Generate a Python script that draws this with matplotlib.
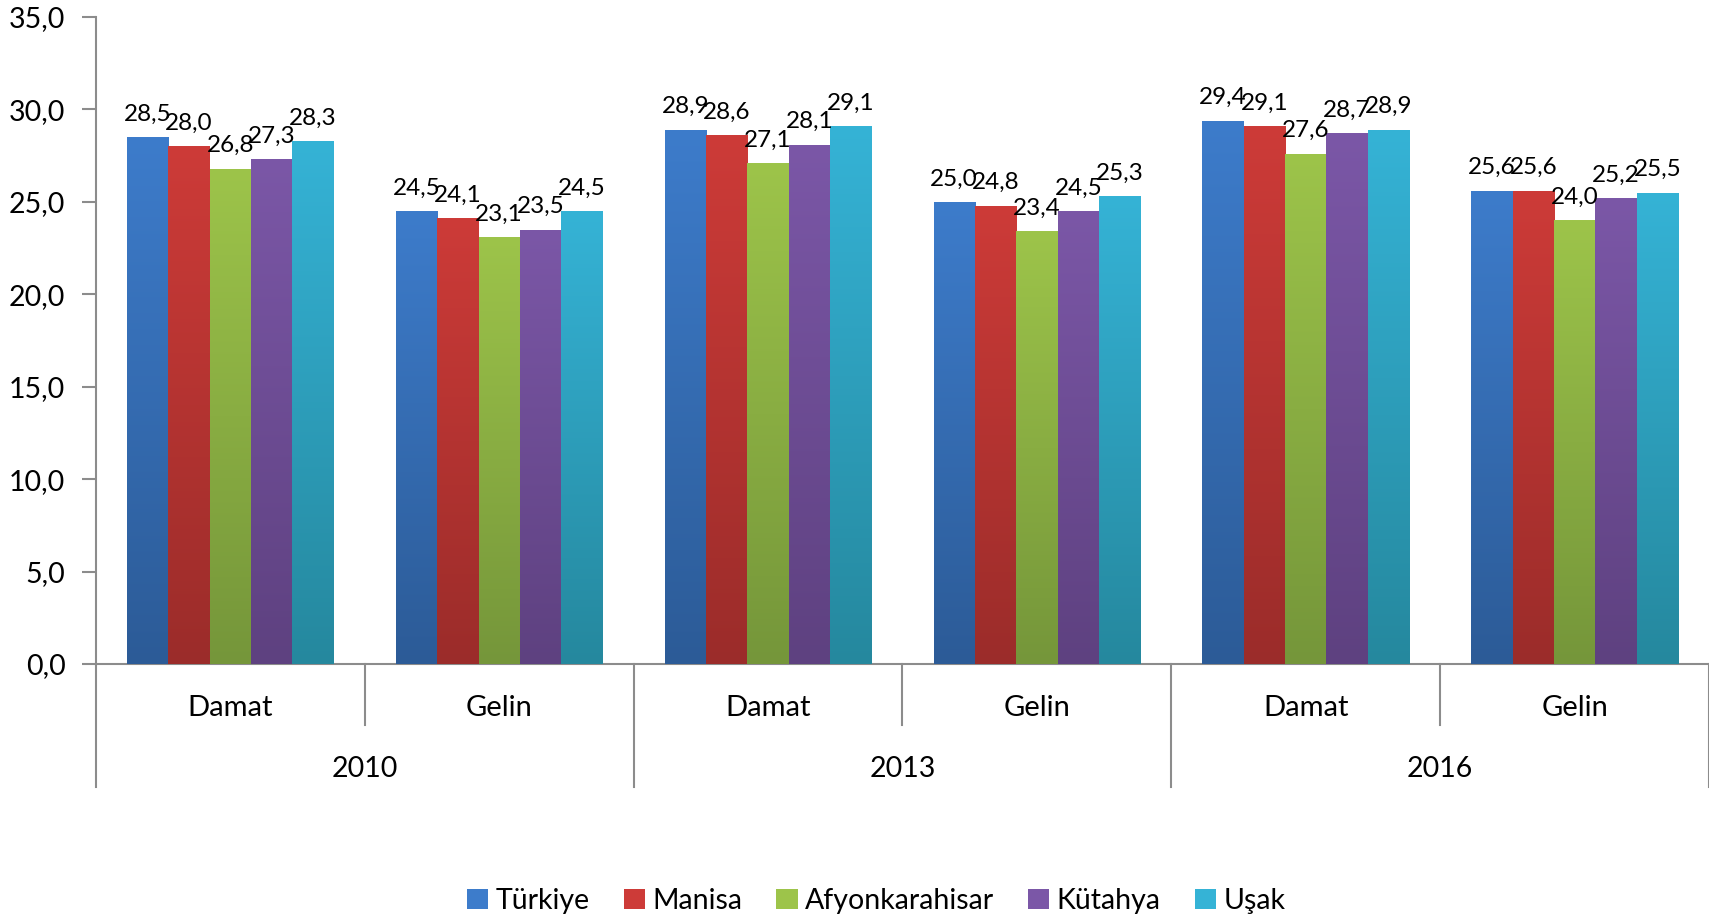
import numpy as np
import matplotlib
matplotlib.use("Agg")
import matplotlib.pyplot as plt
from matplotlib.patches import Patch
from matplotlib.colors import LinearSegmentedColormap

plt.rcParams['font.family'] = ['Lato', 'DejaVu Sans']

years = ["2010", "2013", "2016"]
roles = ["Damat", "Gelin"]
series = ["Türkiye", "Manisa", "Afyonkarahisar", "Kütahya", "Uşak"]

# values per category: 2010 Damat, 2010 Gelin, 2013 Damat, 2013 Gelin, 2016 Damat, 2016 Gelin
turkiye = [28.5, 24.5, 28.9, 25.0, 29.4, 25.6]
manisa = [28.0, 24.1, 28.6, 24.8, 29.1, 25.6]
afyon = [26.8, 23.1, 27.1, 23.4, 27.6, 24.0]
kutahya = [27.3, 23.5, 28.1, 24.5, 28.7, 25.2]
usak = [28.3, 24.5, 29.1, 25.3, 28.9, 25.5]

values = [turkiye, manisa, afyon, kutahya, usak]

# (top, bottom) gradient colours
colors = [("#3d7ccb", "#2c5b97"),
          ("#cd3b38", "#9b2c2a"),
          ("#9dc44a", "#75963a"),
          ("#7b57a7", "#5e4180"),
          ("#35b3d6", "#25889e")]

W, H = 1709, 919
fig = plt.figure(figsize=(W / 100, H / 100), dpi=100)
ax = fig.add_axes([96 / W, 1 - 664 / H, 1 - 96 / W, (664 - 17) / H])

ncat = len(turkiye)
x = np.arange(ncat)
bw = 1 / 6.5
axis_grey = "#8c8c8c"

grad = np.linspace(0, 1, 256).reshape(-1, 1)
for i, (vals, (top, bot)) in enumerate(zip(values, colors)):
    offs = (i - 2) * bw
    bars = ax.bar(x + offs, vals, bw, color=bot, linewidth=0, zorder=2)
    cmap = LinearSegmentedColormap.from_list("g%d" % i, [bot, top])
    for b in bars:
        x0, y0 = b.get_x(), b.get_y()
        im = ax.imshow(grad, cmap=cmap, origin="lower", aspect="auto",
                       extent=[x0, x0 + b.get_width(), y0, y0 + b.get_height()],
                       zorder=3)
        im.set_clip_path(b)
    labels = [f"{v:.1f}".replace(".", ",") for v in vals]
    ax.bar_label(bars, labels=labels, padding=9, fontsize=17.5, zorder=5)

ax.set_xlim(-0.5, ncat - 0.5)
ax.set_ylim(0, 35)
ax.set_yticks(np.arange(0, 35.1, 5))
ax.set_yticklabels([f"{v:.1f}".replace(".", ",") for v in np.arange(0, 35.1, 5)])
ax.tick_params(axis="y", labelsize=20.5, length=10, width=1.5, color=axis_grey, pad=12)
ax.set_xticks([])
for s in ["top", "right"]:
    ax.spines[s].set_visible(False)
for s in ["left", "bottom"]:
    ax.spines[s].set_color(axis_grey)
    ax.spines[s].set_linewidth(1.5)

# multi-level category axis
tr = ax.get_xaxis_transform()
axh = 664 - 17
sub_y = -61 / axh
year_y = -123 / axh
for k in range(ncat + 1):
    xb = k - 0.5
    yend = year_y if k % 2 == 0 else sub_y
    ax.plot([xb, xb], [0, yend], transform=tr, color=axis_grey, lw=1.5,
            clip_on=False, zorder=1)
for k in range(ncat):
    ax.text(x[k], -44 / axh, roles[k % 2], transform=tr, ha="center", va="center",
            fontsize=21)
for j, yr in enumerate(years):
    ax.text(2 * j + 0.5, -105 / axh, yr, transform=tr, ha="center", va="center",
            fontsize=20.5)

handles = [Patch(facecolor=top, edgecolor="none") for top, bot in colors]
fig.legend(handles, series, loc="center", bbox_to_anchor=(876 / W, 1 - 901 / H),
           ncol=5, frameon=False, fontsize=20.5, handlelength=0.75, handleheight=0.75,
           handletextpad=0.25, columnspacing=1.2)

fig.savefig("out.png", dpi=100)
